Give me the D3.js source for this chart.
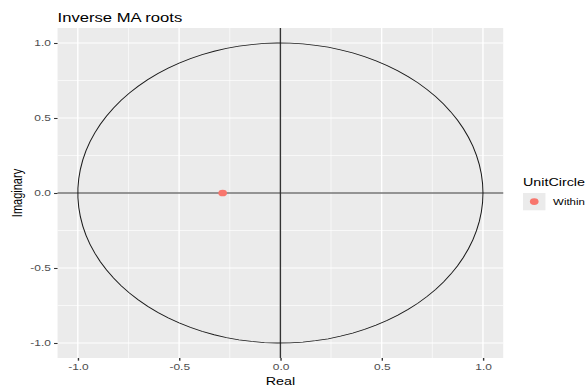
<!DOCTYPE html>
<html>
<head>
<meta charset="utf-8">
<script src="https://cdn.jsdelivr.net/npm/d3@7"></script>
<style>
  html, body { margin: 0; padding: 0; background: #fff; }
  svg { display: block; font-family: "Liberation Sans", Arial, sans-serif; }
</style>
</head>
<body>
<svg id="chart" width="586" height="389"></svg>
<script>
// Inverse MA roots (real / imaginary parts)
const rootsReal = [-0.285];
const rootsImag = [0.0];
const rootsStatus = ["Within"];

const xTicks = [-1.0, -0.5, 0.0, 0.5, 1.0];
const yTicks = [-1.0, -0.5, 0.0, 0.5, 1.0];
const minorTicks = [-0.75, -0.25, 0.25, 0.75];

// The plot is laid out on a 451px-wide canvas and widened to the 586px frame.
const W = 586, H = 389, innerW = 451;
const sx = W / innerW;
const panel = { left: 44.3, right: 387.3, top: 28, bottom: 358 };

const svg = d3.select("#chart");
const root = svg.append("g").attr("transform", `scale(${sx},1)`);

const x = d3.scaleLinear().domain([-1.1, 1.1]).range([panel.left, panel.right]);
const y = d3.scaleLinear().domain([-1.1, 1.1]).range([panel.bottom, panel.top]);

// panel background
root.append("rect")
  .attr("x", panel.left).attr("y", panel.top)
  .attr("width", panel.right - panel.left).attr("height", panel.bottom - panel.top)
  .attr("fill", "#EBEBEB");

const grid = root.append("g");
// minor grid
minorTicks.forEach(v => {
  grid.append("line").attr("x1", x(v)).attr("x2", x(v)).attr("y1", panel.top).attr("y2", panel.bottom)
    .attr("stroke", "#fff").attr("stroke-width", 0.55);
  grid.append("line").attr("y1", y(v)).attr("y2", y(v)).attr("x1", panel.left).attr("x2", panel.right)
    .attr("stroke", "#fff").attr("stroke-width", 0.55);
});
// major grid
xTicks.forEach(v => {
  grid.append("line").attr("x1", x(v)).attr("x2", x(v)).attr("y1", panel.top).attr("y2", panel.bottom)
    .attr("stroke", "#fff").attr("stroke-width", 1.07);
});
yTicks.forEach(v => {
  grid.append("line").attr("y1", y(v)).attr("y2", y(v)).attr("x1", panel.left).attr("x2", panel.right)
    .attr("stroke", "#fff").attr("stroke-width", 1.07);
});

// reference axes through the origin
root.append("line").attr("x1", x(0)).attr("x2", x(0)).attr("y1", panel.top).attr("y2", panel.bottom)
  .attr("stroke", "#333").attr("stroke-width", 1.07);
root.append("line").attr("y1", y(0)).attr("y2", y(0)).attr("x1", panel.left).attr("x2", panel.right)
  .attr("stroke", "#333").attr("stroke-width", 1.07);

// unit circle as a path of 100 vertices
const circlePts = d3.range(100).map(i => {
  const t = i / 99 * 2 * Math.PI;
  return [Math.cos(t), Math.sin(t)];
});
root.append("path")
  .datum(circlePts)
  .attr("d", d3.line().x(d => x(d[0])).y(d => y(d[1])))
  .attr("fill", "none").attr("stroke", "#1a1a1a").attr("stroke-width", 0.8);

// roots
root.append("g").selectAll("circle")
  .data(rootsReal.map((r, i) => ({ re: r, im: rootsImag[i], s: rootsStatus[i] })))
  .join("circle")
  .attr("cx", d => x(d.re)).attr("cy", d => y(d.im)).attr("r", 3.35)
  .attr("fill", "#F8766D");

// axes
const fmt = d => d3.format(".1f")(d).replace("\u2212", "-");
const xAxis = d3.axisBottom(x).tickValues(xTicks).tickFormat(fmt).tickSize(2.7).tickPadding(2.4);
const yAxis = d3.axisLeft(y).tickValues(yTicks).tickFormat(fmt).tickSize(2.7).tickPadding(2.4);

const gx = root.append("g").attr("transform", `translate(0,${panel.bottom})`).call(xAxis);
const gy = root.append("g").attr("transform", `translate(${panel.left},0)`).call(yAxis);
[gx, gy].forEach(g => {
  g.select(".domain").remove();
  g.selectAll(".tick line").attr("stroke", "#333").attr("stroke-width", 1.07);
  g.selectAll(".tick text").attr("fill", "#4D4D4D").style("font-size", "9.2px")
    .style("font-family", "'Liberation Sans', Arial, sans-serif");
});

// titles
root.append("text").attr("x", panel.left).attr("y", 22)
  .attr("fill", "#000").style("font-size", "12.8px").text("Inverse MA roots");
root.append("text").attr("x", x(0)).attr("y", 385).attr("text-anchor", "middle")
  .attr("fill", "#000").style("font-size", "11px").text("Real");
root.append("text").attr("transform", `translate(16.6,${y(0)}) rotate(-90)`).attr("text-anchor", "middle")
  .attr("fill", "#000").style("font-size", "11px").text("Imaginary");

// legend
const lg = root.append("g").attr("transform", "translate(402.5,0)");
lg.append("text").attr("x", 0).attr("y", 186).attr("fill", "#000").style("font-size", "11px").text("UnitCircle");
lg.append("rect").attr("x", 0).attr("y", 193).attr("width", 17.3).attr("height", 17.3).attr("fill", "#EBEBEB");
lg.append("circle").attr("cx", 8.65).attr("cy", 201.6).attr("r", 3.35).attr("fill", "#F8766D");
lg.append("text").attr("x", 23.2).attr("y", 205).attr("fill", "#000").style("font-size", "8.8px").text(rootsStatus[0]);
</script>
</body>
</html>
